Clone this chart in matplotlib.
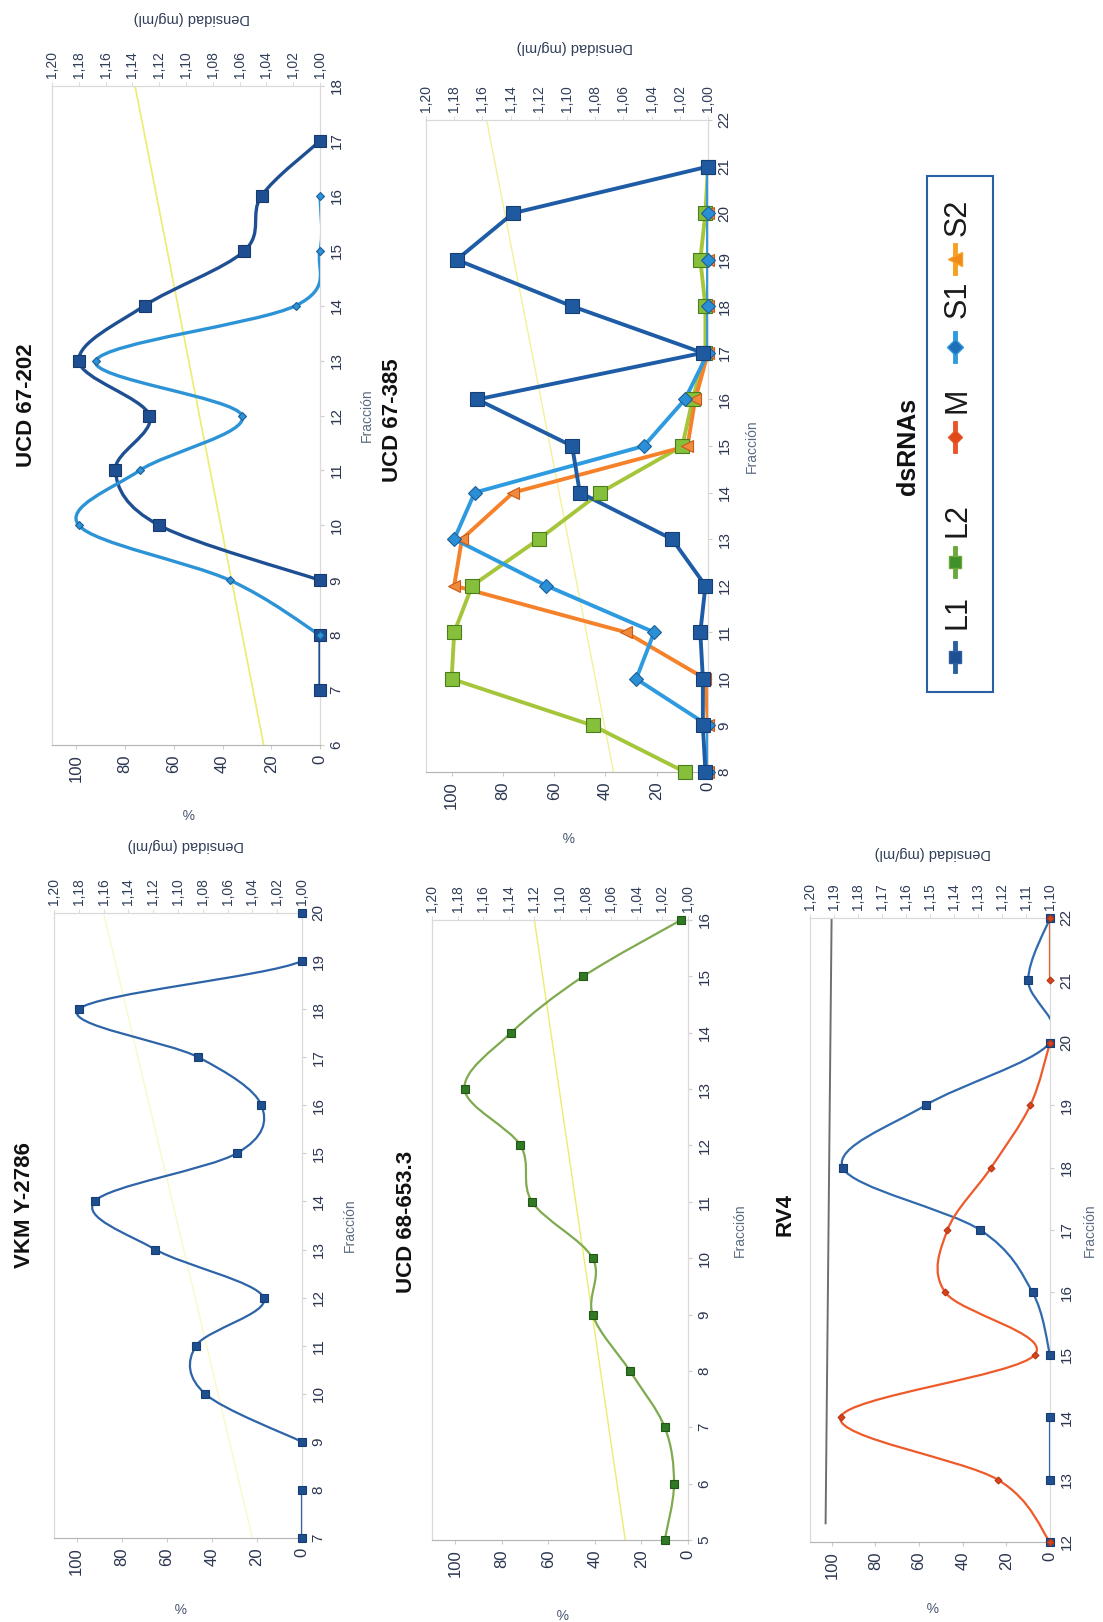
import numpy as np
import matplotlib
matplotlib.use("Agg")
import matplotlib.pyplot as plt
from matplotlib.path import Path
from matplotlib.patches import PathPatch, Rectangle
from matplotlib.lines import Line2D

plt.rcParams['font.family'] = ['Liberation Sans Narrow', 'Liberation Sans', 'DejaVu Sans']

W, H = 1103, 1622

# ---- data (fraction, % of each dsRNA); lists of segments where the line is broken ----
pct_ticks = [0, 20, 40, 60, 80, 100]

# VKM Y-2786
vkm_frac = [[7, 8], [9, 10, 11, 12, 13, 14, 15, 16, 17, 18, 19, 20]]
vkm_L1 = [[0, 0], [0, 43, 47, 17, 65, 92, 29, 18, 46, 99, 0, 0]]
vkm_dens_frac = [7, 20]
vkm_dens = [1.04, 1.16]

# UCD 67-202
u202_L1_frac = [[7, 8], [9, 10, 11, 12, 13, 14, 15, 16, 17]]
u202_L1 = [[0, 0], [0, 66, 84, 70, 99, 72, 31, 24, 0]]
u202_S1_frac = [[8, 9, 10, 11, 12, 13, 14, 15, 16]]
u202_S1 = [[0, 37, 99, 74, 32, 92, 10, 0, 0]]
u202_dens_frac = [6, 18]
u202_dens = [1.042, 1.138]

# UCD 67-385
u385_frac = [8, 9, 10, 11, 12, 13, 14, 15, 16, 17, 18, 19, 20, 21]
u385_L1 = [1, 2, 2, 3, 1, 14, 50, 53, 90, 2, 53, 98, 76, 0]
u385_L2 = [9, 45, 100, 99, 92, 66, 42, 10, 6, 1, 1, 3, 1, 0]
u385_S1 = [0, 0, 28, 21, 63, 99, 91, 25, 9, 0, 0, 0, 0, 0]
u385_S2 = [0, 0, 1, 32, 99, 96, 76, 8, 5, 0, 0, 0, 0, 0]
u385_dens_frac = [8, 22]
u385_dens = [1.067, 1.157]

# UCD 68-653.3
u68_frac = [[5, 6, 7, 8, 9, 10, 11, 12, 13, 14, 15, 16]]
u68_L2 = [[10, 6, 10, 25, 41, 41, 67, 72, 96, 76, 45, 3]]
u68_dens_frac = [5, 16]
u68_dens = [1.049, 1.12]

# RV4
rv4_L1_frac = [[12], [13, 14], [15, 16, 17, 18, 19, 20, 21, 22]]
rv4_L1 = [[0], [0, 0], [0, 8, 32, 95, 57, 0, 10, 0]]
rv4_M_frac = [[12, 13, 14, 15, 16, 17, 18, 19, 20], [21, 22]]
rv4_M = [[0, 24, 96, 7, 48, 47, 27, 9, 0], [0, 0]]
rv4_dens_frac = [12.3, 22]
rv4_dens = [1.1935, 1.191]

legend_names = ['L1', 'L2', 'M', 'S1', 'S2']

fig = plt.figure(figsize=(W / 100, H / 100), dpi=100)
fig.patch.set_facecolor('white')


def fx(x):
    return x / W


def fy(y):
    return 1 - y / H


TICKC = '#2b3550'


def smooth_path(fr, pc):
    p = np.column_stack([pc, fr]).astype(float)
    n = len(p)
    verts = [p[0]]
    codes = [Path.MOVETO]
    for i in range(n - 1):
        p0 = p[i - 1] if i > 0 else p[i]
        p3 = p[i + 2] if i + 2 < n else p[i + 1]
        c1 = p[i] + (p[i + 1] - p0) / 6
        c2 = p[i + 1] - (p3 - p[i]) / 6
        verts += [c1, c2, p[i + 1]]
        codes += [Path.CURVE4] * 3
    return Path(verts, codes)


def draw_series(ax, segs_frac, segs_pct, color, lw, marker, ms, mfc, mec, smooth=True):
    for fr, pc in zip(segs_frac, segs_pct):
        if len(fr) > 1:
            if smooth:
                ax.add_patch(PathPatch(smooth_path(fr, pc), fill=False, edgecolor=color,
                                       lw=lw, capstyle='round', joinstyle='round', zorder=3))
            else:
                ax.plot(pc, fr, color=color, lw=lw, solid_joinstyle='round', zorder=3)
        ax.plot(pc, fr, ls='none', marker=marker, ms=ms, mfc=mfc, mec=mec, mew=0.8,
                clip_on=False, zorder=5)


def panel(rect, flim, dlim, dticks, dstep_fmt):
    l, r, t, b = rect
    ax = fig.add_axes([fx(l), fy(b), fx(r) - fx(l), fy(t) - fy(b)])
    ax.set_xlim(110, 0)
    ax.set_ylim(*flim)
    ax.set_xticks(pct_ticks)
    ax.set_xticklabels([str(v) for v in pct_ticks], rotation=90, fontsize=12, color=TICKC)
    ax.yaxis.tick_right()
    fticks = list(range(flim[0], flim[1] + 1))
    ax.set_yticks(fticks)
    ax.set_yticklabels([str(v) for v in fticks], rotation=90, fontsize=11, color=TICKC,
                       va='center')
    ax.tick_params(axis='both', length=3, color='#cccccc', pad=4)
    ax2 = ax.twiny()
    ax2.set_xlim(dlim[1], dlim[0])
    ax2.set_xticks(dticks)
    ax2.set_xticklabels([dstep_fmt.format(v).replace('.', ',') for v in dticks],
                        rotation=90, fontsize=10, color='#2f3d58')
    ax2.tick_params(axis='x', length=3, color='#dddddd', pad=3)
    for a in (ax, ax2):
        for s in a.spines.values():
            s.set_color('#dadada')
            s.set_linewidth(0.8)
    ax.spines['bottom'].set_color('#b5b5b5')
    ax.set_zorder(ax2.get_zorder() + 1)
    ax.patch.set_visible(False)
    return ax, ax2


dticks_a = [round(1.00 + 0.02 * i, 2) for i in range(11)]
dticks_b = [round(1.10 + 0.01 * i, 2) for i in range(11)]
YEL = '#ecec70'

# UCD 67-202
ax, ax2 = panel((52, 320, 86, 745), (6, 18), (1.00, 1.20), dticks_a, '{:.2f}')
ax2.plot(u202_dens, u202_dens_frac, color=YEL, lw=1.2)
draw_series(ax, u202_L1_frac, u202_L1, '#1f4f93', 2.4, 's', 8, '#1f4f93', '#163a6e')
draw_series(ax, u202_S1_frac, u202_S1, '#2c93d6', 2.4, 'D', 4.5, '#2c93d6', '#1d5f99')

# VKM Y-2786
ax, ax2 = panel((54, 302, 913, 1538), (7, 20), (1.00, 1.20), dticks_a, '{:.2f}')
ax2.plot(vkm_dens, vkm_dens_frac, color=YEL, lw=1.0, alpha=0.35)
draw_series(ax, vkm_frac, vkm_L1, '#2d64a8', 1.6, 's', 5.5, '#1d4e8f', '#173f75')

# UCD 67-385
ax, ax2 = panel((426, 708, 120, 772), (8, 22), (1.00, 1.20), dticks_a, '{:.2f}')
ax2.plot(u385_dens, u385_dens_frac, color=YEL, lw=1.0, alpha=0.7)
fr385 = [u385_frac]
draw_series(ax, fr385, [u385_L2], '#a5c63a', 2.8, 's', 10, '#86bf3a', '#4b7d1f', smooth=False)
draw_series(ax, fr385, [u385_S2], '#f5822a', 2.8, '<', 9, '#f08a3c', '#c85a1a', smooth=False)
draw_series(ax, fr385, [u385_S1], '#2e9ae0', 2.8, 'D', 7, '#2b8fd6', '#1d5f99', smooth=False)
draw_series(ax, fr385, [u385_L1], '#1f5ca6', 2.8, 's', 10, '#1f5aa0', '#163f75', smooth=False)

# UCD 68-653.3
ax, ax2 = panel((432, 688, 920, 1540), (5, 16), (1.00, 1.20), dticks_a, '{:.2f}')
ax2.plot(u68_dens, u68_dens_frac, color=YEL, lw=1.0)
draw_series(ax, u68_frac, u68_L2, '#7faa4f', 1.6, 's', 5.5, '#2f7a22', '#24561a')

# RV4
ax, ax2 = panel((810, 1050, 918, 1542), (12, 22), (1.10, 1.20), dticks_b, '{:.2f}')
ax2.plot(rv4_dens, rv4_dens_frac, color='#6e6e6e', lw=1.4)
draw_series(ax, rv4_L1_frac, rv4_L1, '#2f6aae', 1.6, 's', 5.5, '#1f4f8f', '#173f75')
draw_series(ax, rv4_M_frac, rv4_M, '#ee5a2a', 1.6, 'D', 3.5, '#d9441c', '#b83410')

# ---- titles and axis labels ----
titles = [('UCD 67-202', 27, 405), ('VKM Y-2786', 25, 1205), ('UCD 67-385', 393, 420),
          ('UCD 68-653.3', 407, 1222), ('RV4', 785, 1215)]
for txt, x, y in titles:
    fig.text(fx(x), fy(y), txt, rotation=90, ha='center', va='center', fontsize=16,
             fontweight='bold', color='#111111')

for x, y in [(367, 415), (350, 1225), (752, 446), (740, 1230), (1090, 1230)]:
    fig.text(fx(x), fy(y), 'Fracción', rotation=90, ha='center', va='center', fontsize=10,
             color='#5b6b80', family=['Liberation Sans', 'DejaVu Sans'])

for x, y in [(188, 812), (180, 1606), (568, 835), (562, 1612), (932, 1605)]:
    fig.text(fx(x), fy(y), '%', rotation=180, ha='center', va='center', fontsize=10,
             color='#4a5670', family=['Liberation Sans', 'DejaVu Sans'])

for x, y in [(192, 18), (186, 845), (575, 47), (933, 853)]:
    fig.text(fx(x), fy(y), 'Densidad (mg/ml)', rotation=180, ha='center', va='center',
             fontsize=10.5, color='#2f3d58', family=['Liberation Sans', 'DejaVu Sans'])

# ---- legend ----
fig.patches.append(Rectangle((fx(927), fy(692)), fx(993) - fx(927), fy(176) - fy(692),
                             transform=fig.transFigure, fill=False, edgecolor='#2a5fa0', lw=1.5))
fig.text(fx(908), fy(446), 'dsRNAs', rotation=90, ha='center', va='center', fontsize=18,
         fontweight='bold', family=['Liberation Sans', 'DejaVu Sans'], color='#111111')
leg_style = [('#2a5fa0', 's', '#1f4f93', 9), ('#6aa83a', 's', '#3f8f2a', 9),
             ('#e8552a', 'D', '#e04a1a', 7), ('#2e9ae0', 'D', '#1f6fb8', 8),
             ('#f7a020', '<', '#f08a1a', 10)]
leg_marker_y = [657, 562, 437, 347, 259]
leg_text_y = [612, 520, 400, 299, 217]
for name, (lc, mk, mc, ms), my, ty in zip(legend_names, leg_style, leg_marker_y, leg_text_y):
    fig.lines.append(Line2D([fx(955), fx(955)], [fy(my + 14), fy(my - 14)], transform=fig.transFigure,
                            color=lc, lw=3.5, marker=None))
    fig.lines.append(Line2D([fx(955)], [fy(my)], transform=fig.transFigure, ls='none',
                            marker=mk, ms=ms, mfc=mc, mec=lc))
    fig.text(fx(958), fy(ty), name, rotation=90, ha='center', va='center', fontsize=22,
             family=['Liberation Sans', 'DejaVu Sans'], color='#1a1a1a')

fig.savefig('out.png', dpi=100, facecolor='white')
